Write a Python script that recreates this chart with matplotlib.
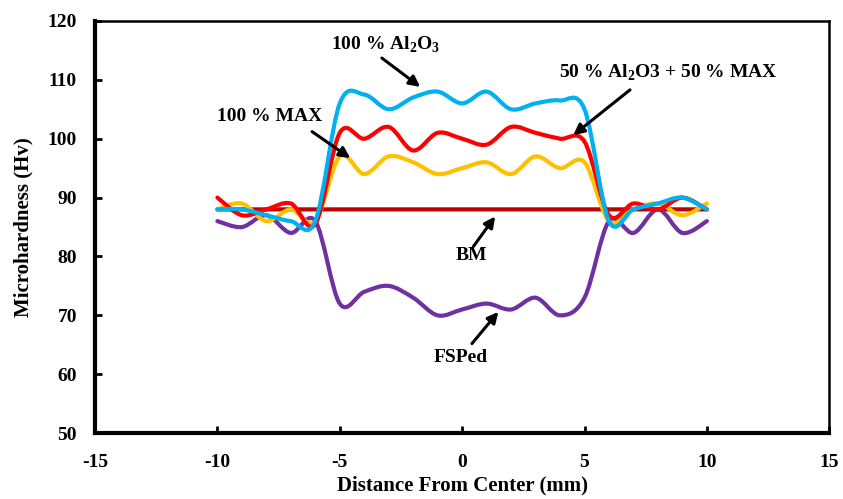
import numpy as np
import matplotlib
matplotlib.use("Agg")
import matplotlib.pyplot as plt
from matplotlib.path import Path
from matplotlib.patches import PathPatch

plt.rcParams['font.family'] = ['Liberation Serif', 'DejaVu Serif']
plt.rcParams['font.weight'] = 'bold'
plt.rcParams['axes.unicode_minus'] = False
plt.rcParams['mathtext.fontset'] = 'custom'
plt.rcParams['mathtext.rm'] = 'Liberation Serif:bold'
plt.rcParams['mathtext.bf'] = 'Liberation Serif:bold'

distance = list(range(-10, 11))
bm = [88] * 21
fsped = [86, 85, 87, 84, 86, 72, 74, 75, 73, 70, 71, 72, 71, 73, 70, 73, 86, 84, 88, 84, 86]
max100 = [88, 89, 86, 88, 86, 97, 94, 97, 96, 94, 95, 96, 94, 97, 95, 96, 86, 88, 89, 87, 89]
mix50 = [90, 87, 88, 89, 85.5, 101, 100, 102, 98, 101, 100, 99, 102, 101, 100, 99.5, 87, 89, 88, 90, 88]
al2o3 = [88, 88, 87, 86, 86, 106, 107.5, 105, 107, 108, 106, 108, 105, 106, 106.5, 105, 86, 88, 89, 90, 88]


def smooth_path(xs, ys):
    # Excel-style smoothed line: cubic Bezier through every point
    p = np.column_stack((xs, ys)).astype(float)
    ext = np.vstack((p[0], p, p[-1]))
    verts = [p[0]]
    codes = [Path.MOVETO]
    for i in range(len(p) - 1):
        c1 = ext[i + 1] + (ext[i + 2] - ext[i]) / 6
        c2 = ext[i + 2] - (ext[i + 3] - ext[i + 1]) / 6
        verts += [c1, c2, p[i + 1]]
        codes += [Path.CURVE4] * 3
    return Path(verts, codes)


fig = plt.figure(figsize=(8.43, 4.99), dpi=100)
ax = fig.add_axes([0.1127, 0.132, 0.871, 0.826])

series = [
    (bm, '#C00000'),
    (fsped, '#7030A0'),
    (max100, '#FFC000'),
    (mix50, '#FF0000'),
    (al2o3, '#00B0F0'),
]
for vals, col in series:
    ax.add_patch(PathPatch(smooth_path(distance, vals), facecolor='none',
                           edgecolor=col, lw=3, capstyle='round'))

ax.set_xlim(-15, 15)
ax.set_ylim(50, 120)
ax.set_xticks(range(-15, 16, 5))
ax.set_yticks(range(50, 121, 10))
ax.tick_params(direction='in', length=5, width=2, labelsize=14)
ax.tick_params(axis='x', pad=15)
ax.tick_params(axis='y', pad=13)
for lab in ax.get_xticklabels() + ax.get_yticklabels():
    lab.set_fontweight('bold')

ax.spines['left'].set_linewidth(3)
ax.spines['bottom'].set_linewidth(3)
ax.spines['top'].set_linewidth(1.8)
ax.spines['right'].set_linewidth(1.8)

ax.set_xlabel('Distance From Center (mm)', fontsize=15, fontweight='bold', labelpad=3)
ax.set_ylabel('Microhardness (Hv)', fontsize=15, fontweight='bold', labelpad=10)

arrow = dict(arrowstyle='-|>', color='black', lw=2.2, mutation_scale=16, shrinkA=0, shrinkB=0)

ax.text(-3.14, 115.9, r'100 % Al$_2$O$_3$', fontsize=14, ha='center', va='center')
ax.annotate('', xy=(-1.71, 108.8), xytext=(-3.28, 113.7), arrowprops=arrow)

ax.text(-7.88, 103.7, '100 % MAX', fontsize=14, ha='center', va='center')
ax.annotate('', xy=(-4.57, 96.7), xytext=(-6.13, 101.2), arrowprops=arrow)

ax.text(8.41, 111.2, r'50 % Al$_2$O3 + 50 % MAX', fontsize=14, ha='center', va='center')
ax.annotate('', xy=(4.54, 100.6), xytext=(6.86, 108.3), arrowprops=arrow)

ax.text(0.37, 80.2, 'BM', fontsize=14, ha='center', va='center')
ax.annotate('', xy=(1.35, 86.8), xytext=(0.46, 81.7), arrowprops=arrow)

ax.text(-0.04, 62.9, 'FSPed', fontsize=14, ha='center', va='center')
ax.annotate('', xy=(1.48, 70.6), xytext=(0.40, 65.2), arrowprops=arrow)

fig.savefig('out.png', dpi=100)
